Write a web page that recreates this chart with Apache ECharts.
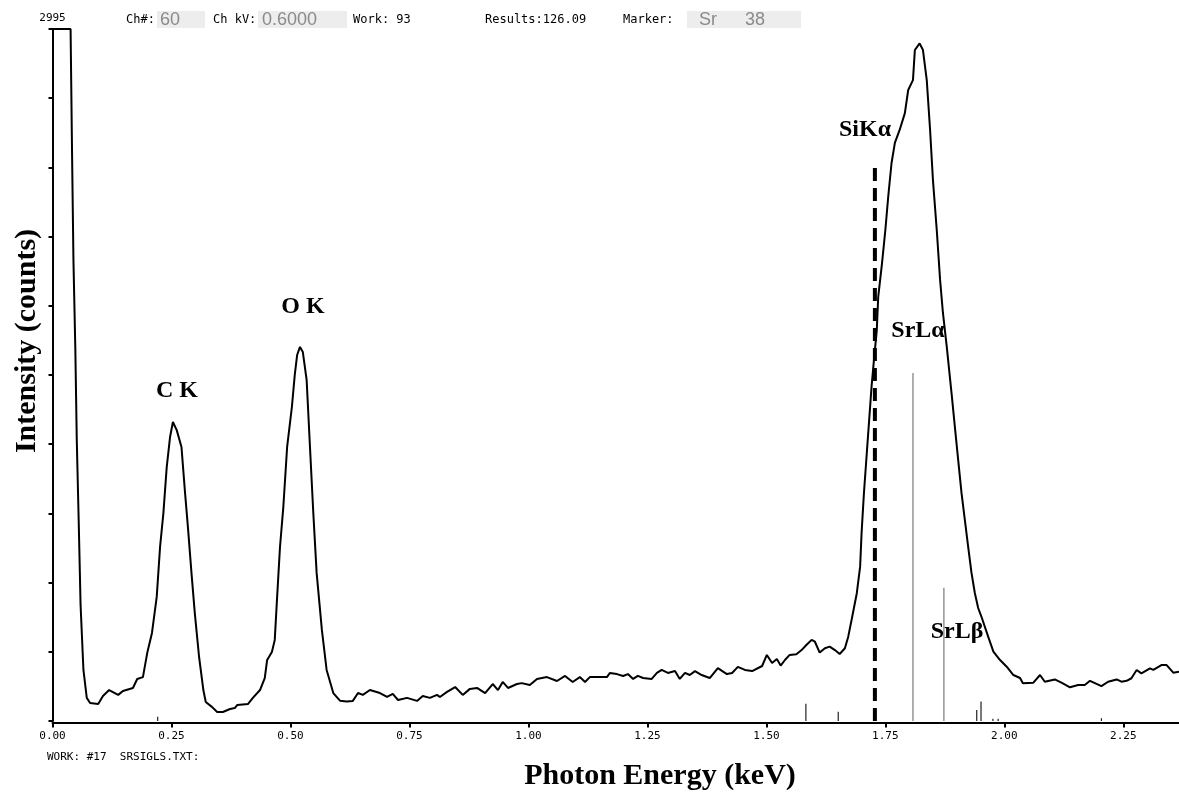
<!DOCTYPE html>
<html>
<head>
<meta charset="utf-8">
<title>EDS spectrum</title>
<script src="https://cdn.jsdelivr.net/npm/echarts@6/dist/echarts.min.js"></script>
<style>
  html, body { margin: 0; padding: 0; background: #fff; }
  #chart { width: 1179px; height: 792px; }
</style>
</head>
<body>
<div id="chart"></div>
<script>
// spectrum trace: photon energy (keV) and intensity (counts)
const energy = [
  0.000, 0.038, 0.041, 0.044, 0.048, 0.051, 0.055, 0.059, 0.065, 0.072,
  0.079, 0.096, 0.106, 0.119, 0.138, 0.148, 0.169, 0.178, 0.190, 0.199,
  0.209, 0.219, 0.226, 0.233, 0.240, 0.247, 0.253, 0.261, 0.271, 0.278,
  0.285, 0.292, 0.299, 0.308, 0.317, 0.322, 0.335, 0.346, 0.358, 0.373,
  0.383, 0.388, 0.411, 0.421, 0.436, 0.446, 0.451, 0.461, 0.467, 0.472,
  0.478, 0.485, 0.493, 0.503, 0.509, 0.514, 0.520, 0.526, 0.534, 0.541,
  0.548, 0.555, 0.566, 0.576, 0.590, 0.604, 0.618, 0.631, 0.642, 0.652,
  0.667, 0.688, 0.703, 0.715, 0.726, 0.745, 0.766, 0.778, 0.793, 0.808,
  0.814, 0.829, 0.846, 0.862, 0.877, 0.892, 0.909, 0.925, 0.936, 0.946,
  0.957, 0.976, 0.986, 1.003, 1.018, 1.039, 1.060, 1.077, 1.093, 1.108,
  1.119, 1.129, 1.165, 1.171, 1.186, 1.199, 1.209, 1.220, 1.230, 1.241,
  1.259, 1.270, 1.280, 1.293, 1.308, 1.318, 1.329, 1.339, 1.350, 1.364,
  1.381, 1.398, 1.417, 1.428, 1.440, 1.455, 1.470, 1.491, 1.501, 1.512,
  1.522, 1.530, 1.539, 1.549, 1.563, 1.574, 1.584, 1.595, 1.602, 1.612,
  1.623, 1.633, 1.644, 1.654, 1.665, 1.672, 1.679, 1.690, 1.697, 1.700,
  1.705, 1.711, 1.716, 1.721, 1.726, 1.732, 1.735, 1.743, 1.750, 1.756,
  1.763, 1.770, 1.780, 1.791, 1.798, 1.808, 1.812, 1.822, 1.829, 1.837,
  1.844, 1.850, 1.858, 1.865, 1.871, 1.879, 1.889, 1.896, 1.903, 1.910,
  1.917, 1.924, 1.931, 1.938, 1.945, 1.952, 1.959, 1.966, 1.977, 1.991,
  2.005, 2.019, 2.033, 2.039, 2.061, 2.075, 2.085, 2.106, 2.120, 2.138,
  2.155, 2.169, 2.180, 2.204, 2.218, 2.236, 2.246, 2.257, 2.267, 2.278,
  2.288, 2.306, 2.313, 2.330, 2.341, 2.355, 2.367
];
const counts = [
  2995, 2995, 2471, 1995, 1606, 1216, 870, 502, 221, 100,
  78, 74, 108, 134, 113, 130, 143, 182, 190, 294,
  381, 537, 753, 900, 1099, 1229, 1294, 1259, 1186, 1000,
  827, 641, 467, 277, 134, 82, 61, 39, 39, 52,
  56, 69, 74, 100, 134, 186, 264, 299, 351, 537,
  753, 926, 1186, 1359, 1497, 1584, 1619, 1597, 1476, 1186,
  900, 641, 394, 221, 121, 88, 84, 87, 121, 113,
  134, 121, 104, 117, 91, 100, 87, 108, 100, 113,
  104, 126, 147, 113, 139, 143, 121, 160, 134, 169,
  143, 160, 164, 156, 182, 190, 173, 195, 169, 190,
  169, 190, 190, 208, 203, 195, 203, 182, 195, 186,
  182, 208, 221, 208, 216, 182, 208, 199, 216, 199,
  186, 229, 203, 208, 234, 221, 216, 238, 286, 251,
  268, 240, 264, 286, 289, 307, 329, 351, 343, 296,
  315, 322, 307, 290, 315, 365, 437, 553, 668, 812,
  987, 1160, 1303, 1447, 1562, 1692, 1836, 1982, 2125, 2269,
  2415, 2502, 2558, 2631, 2731, 2774, 2904, 2933, 2904, 2774,
  2558, 2341, 2125, 1909, 1766, 1620, 1420, 1274, 1130, 987,
  870, 754, 641, 554, 489, 451, 408, 365, 300, 264,
  235, 199, 186, 163, 166, 199, 170, 180, 166, 146,
  156, 156, 174, 151, 170, 180, 170, 174, 185, 221,
  206, 228, 221, 242, 242, 209, 213
];

// KLM marker sticks (energy keV, height counts)
const srLineEnergy = [1.808, 1.873];
const srLineHeight = [1506, 577];
const minorLineEnergy = [0.221, 1.583, 1.651, 1.942, 1.951, 1.976, 1.987, 2.204];
const minorLineHeight = [18, 75, 40, 48, 84, 10, 10, 12];
const siKaEnergy = [1.728];
const siKaHeight = [2393];

const xTickValues = [0, 0.25, 0.5, 0.75, 1, 1.25, 1.5, 1.75, 2, 2.25];
const yFullScale = 2995;
const yTickStep = 299.5;

const peakLabels = [
  { text: 'C K', x: 177, y: 391 },
  { text: 'O K', x: 303, y: 307 },
  { text: 'SiKα', x: 865, y: 130 },
  { text: 'SrLα', x: 918, y: 331 },
  { text: 'SrLβ', x: 957, y: 632 },
];

const mono = 'DejaVu Sans Mono';
const serif = 'Liberation Serif';

function stickSeries(e, h, color, width, dash) {
  return {
    type: 'custom',
    silent: true,
    clip: true,
    z: 1,
    data: e.map((v, i) => [v, h[i]]),
    encode: { x: 0, y: 1 },
    renderItem: function (params, api) {
      const top = api.coord([api.value(0), api.value(1)]);
      const base = api.coord([api.value(0), 0]);
      return {
        type: 'line',
        shape: { x1: top[0], y1: top[1], x2: base[0], y2: base[1] },
        style: { stroke: color, lineWidth: width, lineDash: dash || null },
      };
    },
  };
}

function headText(x, text) {
  return {
    type: 'text', x: x, y: 20,
    style: { text: text, fill: '#000', font: '12px "' + mono + '"', verticalAlign: 'middle' },
  };
}

function grayBox(x, w) {
  return { type: 'rect', shape: { x: x, y: 11, width: w, height: 17 }, style: { fill: '#ededed' } };
}

function grayText(x, text) {
  return {
    type: 'text', x: x, y: 20,
    style: { text: text, fill: '#8a8a8a', font: '18px "Liberation Sans"', verticalAlign: 'middle' },
  };
}

const chart = echarts.init(document.getElementById('chart'), null, { renderer: 'canvas' });

const option = {
  backgroundColor: '#fff',
  animation: false,
  grid: { left: 52.5, right: 0, top: 29, bottom: 71, containLabel: false, outerBoundsMode: 'none' },
  xAxis: {
    type: 'value',
    min: 0,
    max: 2.367,
    interval: 0.25,
    offset: 1.5,
    axisLine: { show: true, onZero: false, lineStyle: { color: '#000', width: 2 } },
    axisTick: { show: true, length: 5, lineStyle: { color: '#000', width: 2 } },
    splitLine: { show: false },
    axisLabel: {
      margin: 8,
      color: '#000',
      fontFamily: mono,
      fontSize: 11,
      showMaxLabel: false,
      formatter: function (v) {
        const hit = xTickValues.find(t => Math.abs(t - v) < 1e-6);
        return hit === undefined ? '' : hit.toFixed(2);
      },
    },
  },
  yAxis: [{
    type: 'value',
    min: 0,
    max: yFullScale,
    interval: yTickStep,
    offset: 2.5,
    name: String(yFullScale),
    nameLocation: 'end',
    nameGap: 5,
    nameTextStyle: { color: '#000', fontFamily: mono, fontSize: 11, align: 'center' },
    axisLine: { show: true, lineStyle: { color: '#000', width: 2 } },
    axisTick: { show: true, length: 4, lineStyle: { color: '#000', width: 2 } },
    axisLabel: { show: false },
    splitLine: { show: false },
  }, {
    type: 'value',
    position: 'left',
    min: 0,
    max: yFullScale,
    interval: yTickStep,
    offset: 2.5,
    axisLine: { show: false },
    axisTick: { show: true, inside: true, length: 3, lineStyle: { color: '#000', width: 2 } },
    axisLabel: { show: false },
    splitLine: { show: false },
  }],
  series: [
    stickSeries(minorLineEnergy, minorLineHeight, '#222', 1.2),
    stickSeries(srLineEnergy, srLineHeight, '#7a7a7a', 1.2),
    {
      type: 'line',
      data: energy.map((e, i) => [e, counts[i]]),
      showSymbol: false,
      symbol: 'none',
      smooth: false,
      clip: true,
      z: 3,
      lineStyle: { color: '#000', width: 2 },
      silent: true,
    },
    Object.assign(stickSeries(siKaEnergy, siKaHeight, '#000', 4, [13, 7]), { z: 4 }),
  ],
  graphic: [
    grayBox(157, 48),
    grayBox(258, 89),
    grayBox(687, 114),
    headText(126, 'Ch#:'),
    grayText(160, '60'),
    headText(213, 'Ch kV:'),
    grayText(262, '0.6000'),
    headText(353, 'Work: 93'),
    headText(485, 'Results:126.09'),
    headText(623, 'Marker:'),
    grayText(699, 'Sr'),
    grayText(745, '38'),
    {
      type: 'text', x: 47, y: 757,
      style: { text: 'WORK: #17  SRSIGLS.TXT:', fill: '#000', font: '11px "' + mono + '"', verticalAlign: 'middle' },
    },
    {
      type: 'text', x: 660, y: 776,
      style: { text: 'Photon Energy (keV)', fill: '#000', font: 'bold 30px "' + serif + '"', align: 'center', verticalAlign: 'middle' },
    },
    {
      type: 'text', x: 27, y: 341, rotation: Math.PI / 2,
      style: { text: 'Intensity (counts)', fill: '#000', font: 'bold 30px "' + serif + '"', align: 'center', verticalAlign: 'middle' },
    },
  ].concat(peakLabels.map(p => ({
    type: 'text', x: p.x, y: p.y, z: 10,
    style: { text: p.text, fill: '#000', font: 'bold 24px "' + serif + '"', align: 'center', verticalAlign: 'middle' },
  }))),
};

chart.setOption(option);
</script>
</body>
</html>
